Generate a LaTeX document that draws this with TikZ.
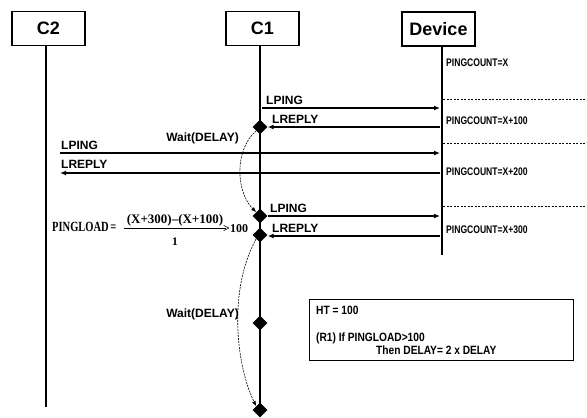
\documentclass[tikz,border=0pt]{standalone}
\usepackage{fontspec}
\setmainfont{Liberation Sans}
\newfontfamily\timesfont{Liberation Serif}
\newfontfamily\timescond[FakeStretch=0.75]{Liberation Serif}
\newfontfamily\sanscond[FakeStretch=0.85]{Liberation Sans}
\newfontfamily\sansnarrow[FakeStretch=0.78]{Liberation Sans}
\usetikzlibrary{arrows.meta,shapes.geometric}
\begin{document}
\begin{tikzpicture}[x=1pt,y=-1pt,
  actor/.style={draw,line width=1.2pt,minimum width=73pt,minimum height=34pt,inner sep=0pt,font=\fontsize{18}{20}\selectfont\bfseries},
  life/.style={line width=1.3pt},
  thicklife/.style={line width=2.2pt},
  msg/.style={line width=1.2pt,-{Latex[length=6pt,width=5pt]}},
  lbl/.style={anchor=base west,inner sep=0pt,font=\fontsize{12}{13}\selectfont\bfseries},
  waitlbl/.style={anchor=base east,inner sep=0pt,font=\fontsize{12}{13}\selectfont\bfseries},
  cnt/.style={anchor=base west,inner sep=0pt,font=\sansnarrow\fontsize{11}{12}\selectfont\bfseries},
  note/.style={anchor=base west,inner sep=0pt,font=\sanscond\fontsize{12}{13}\selectfont\bfseries},
  formula/.style={inner sep=0pt},
  dia/.style={diamond,fill=black,inner sep=0pt,minimum size=15pt},
  sepline/.style={line width=0.6pt,dash pattern=on 2pt off 1.5pt},
  waitarrow/.style={line width=0.6pt,dash pattern=on 2pt off 1pt,-{Latex[length=5pt,width=4pt]}},
]
\useasboundingbox (0,0) rectangle (587,418);
\fill[white] (0,0) rectangle (587,418);

% actors
\node[actor] (c2) at (48.5,28.5) {C2};
\node[actor] (c1) at (262.5,28.5) {C1};
\node[actor] (dev) at (438.5,29) {Device};

% lifeline ends
\coordinate (c2end) at (46,407);
\coordinate (c1end) at (260,410);
\coordinate (devend) at (442,255);
\draw[life] (c2.south -| c2end) -- (c2end);
\draw[thicklife] (c1.south -| c1end) -- (c1end);
\draw[life] (dev.south -| devend) -- (devend);

% diamonds
\node[dia] (d1) at (260,127) {};
\node[dia] (d2) at (260,216) {};
\node[dia] (d3) at (260,235) {};
\node[dia] (d4) at (260,323) {};
\node[dia] (d5) at (260,410) {};

% message end points
\coordinate (p1s) at (262,108);
\coordinate (p1e) at (440,108);
\coordinate (r1s) at (440,127);
\coordinate (p2s) at (60,153);
\coordinate (p2e) at (440,153);
\coordinate (r2s) at (440,173);
\coordinate (r2e) at (60,173);
\coordinate (p3e) at (440,216);
\coordinate (r3s) at (440,236);

\draw[msg] (p1s) -- (p1e);
\draw[msg] (r1s) -- (d1.east);
\draw[msg] (p2s) -- (p2e);
\draw[msg] (r2s) -- (r2e);
\draw[msg] (d2.east) -- (p3e);
\draw[msg] (r3s) -- (d3.east |- r3s);

% message labels
\node[lbl] (l1) at (266,104) {LPING};
\node[lbl] (l2) at (272,123) {LREPLY};
\node[lbl] (l3) at (61,149) {LPING};
\node[lbl] (l4) at (61,168) {LREPLY};
\node[lbl] (l5) at (270,212) {LPING};
\node[lbl] (l6) at (272,232) {LREPLY};

% waits
\draw[waitarrow] (d1.south west) .. controls (234,150) and (236,192) .. (d2.north west);
\draw[waitarrow] (d3.south west) .. controls (228,290) and (236,365) .. (d5.north west);
\node[waitlbl] (w1) at (239,141) {Wait(DELAY)};
\node[waitlbl] (w2) at (239,317) {Wait(DELAY)};

% device side
\node[cnt] (pc0) at (446,66) {PINGCOUNT=X};
\node[cnt] (pc1) at (446,124) {PINGCOUNT=X+100};
\node[cnt] (pc2) at (446,175) {PINGCOUNT=X+200};
\node[cnt] (pc3) at (446,233) {PINGCOUNT=X+300};
\coordinate (s1a) at (443,99);  \coordinate (s1b) at (587,99);
\coordinate (s2a) at (443,143); \coordinate (s2b) at (587,143);
\coordinate (s3a) at (443,206); \coordinate (s3b) at (587,206);
\draw[sepline] (s1a) -- (s1b);
\draw[sepline] (s2a) -- (s2b);
\draw[sepline] (s3a) -- (s3b);

% formula
\node[formula,anchor=base west,font=\timescond\bfseries\fontsize{14}{15}\selectfont] (pl) at (52,231) {PINGLOAD\hspace{1.5pt}=};
\node[formula,anchor=base,font=\timesfont\bfseries\fontsize{13}{14}\selectfont] (num) at (175,223) {(X+300)–(X+100)};
\node[formula,anchor=base,font=\timesfont\bfseries\fontsize{11.5}{12}\selectfont] (den) at (175,245) {1};
\node[formula,anchor=base west,font=\timesfont\bfseries\fontsize{12}{13}\selectfont] (gt) at (223,232) {>100};
\coordinate (barl) at (124,228);
\coordinate (barr) at (226,228);
\draw[line width=0.8pt] (barl) -- (barr);

% rule box
\node[draw,line width=1pt,minimum width=264pt,minimum height=61pt,inner sep=0pt] (rules) at (441,329.5) {};
\node[note] (ht) at (316,314) {HT = 100};
\node[note] (r1) at (316,341) {(R1) If PINGLOAD>100};
\node[note] (r1b) at (376,354) {Then DELAY= 2 x DELAY};
\end{tikzpicture}
\end{document}
